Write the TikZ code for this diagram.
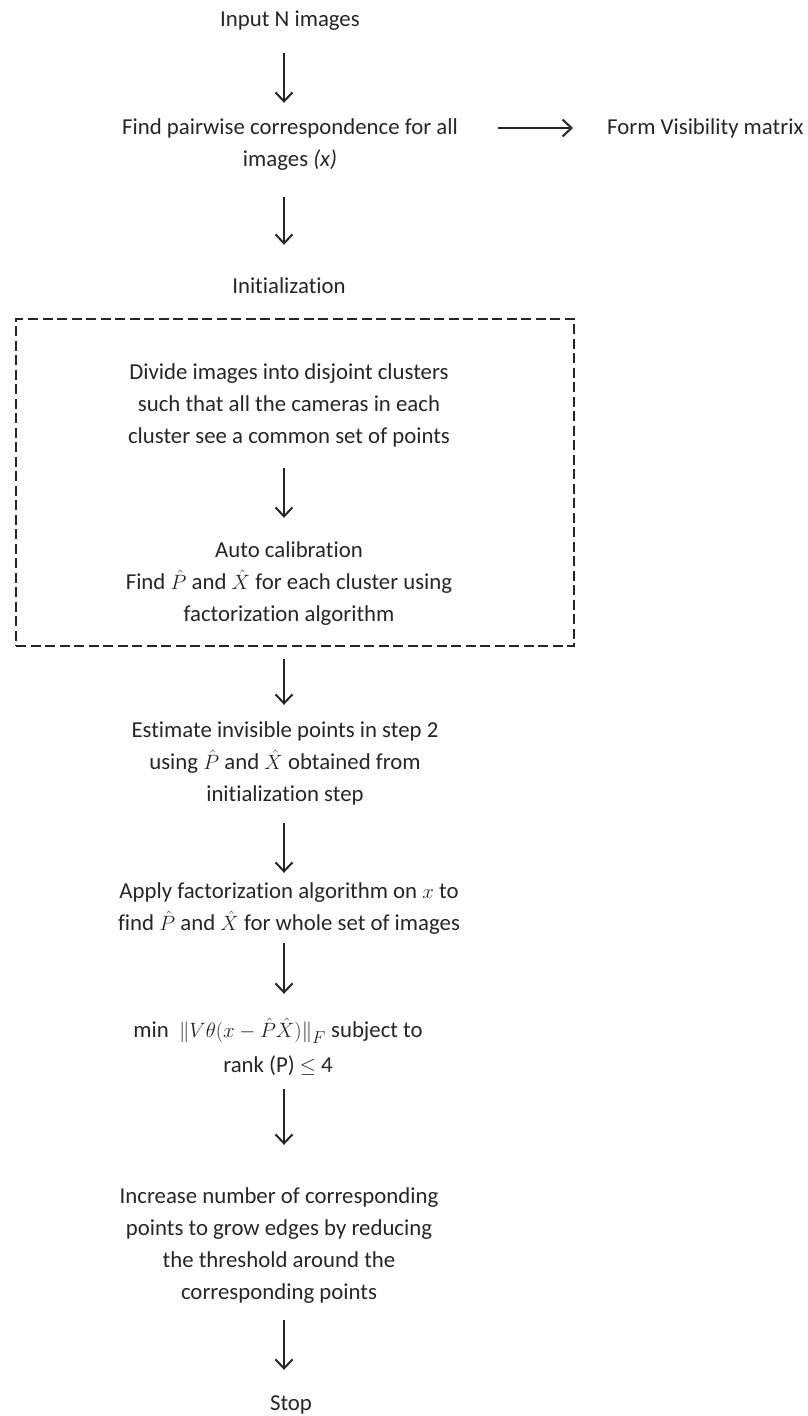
\documentclass[tikz,border=0pt]{standalone}
\usepackage{fontspec}
\setmainfont{Carlito}[RawFeature={-liga;-clig;-calt;-dlig;-rlig}]
\usetikzlibrary{arrows.meta}
\definecolor{txt}{HTML}{262626}
\newcommand{\fsz}{\fontsize{22.8pt}{32pt}\selectfont}
\tikzset{
  lbl/.style={text=txt, inner sep=0pt, align=center, font=\fsz},
  arr/.style={draw=txt, line width=2pt, -{Straight Barb[length=9pt,width=17pt,line width=2pt]}},
  dashbox/.style={draw=txt, line width=2pt, dash pattern=on 10pt off 4.5pt, inner sep=0pt}
}
\begin{document}
\begin{tikzpicture}[x=1pt,y=-1pt]
\useasboundingbox (0,0) rectangle (807,1416);
\coordinate (ax) at (284,0);
\node[lbl] (in) at (290,20) {\strut Input N images};
\node[lbl] (find) at (290,144) {\strut Find pairwise correspondence for all\\\strut images \textit{(x)}};
\node[lbl, anchor=west] (vis) at (607,128) {\strut Form Visibility matrix};
\node[lbl] (init) at (289,287) {\strut Initialization};
\node[dashbox, minimum width=558pt, minimum height=327pt] (box) at (295,482.5) {};
\node[lbl] (div) at (289,405) {\strut Divide images into disjoint clusters\\\strut such that all the cameras in each\\\strut cluster see a common set of points};
\node[lbl] (auto) at (289,583) {\strut Auto calibration\\\strut Find $\hat{P}$ and $\hat{X}$ for each cluster using\\\strut factorization algorithm};
\node[lbl] (est) at (285,763) {\strut Estimate invisible points in step 2\\\strut using $\hat{P}$ and $\hat{X}$ obtained from\\\strut initialization step};
\node[lbl] (apply) at (289,908) {\strut Apply factorization algorithm on $x$ to\\\strut find $\hat{P}$ and $\hat{X}$ for whole set of images};
\node[lbl] (min) at (278,1048.5) {\strut min\ \ $\Big\|V\theta(x-\hat{P}\hat{X})\Big\|_{F}$ subject to\\[3pt]\strut rank (P) $\leq$ 4};
\node[lbl] (inc) at (279,1245) {\strut Increase number of corresponding\\\strut points to grow edges by reducing\\\strut the threshold around the\\\strut corresponding points};
\node[lbl] (stop) at (291,1404) {\strut Stop};
\draw[arr, shorten <=17pt, shorten >=9pt] (in.south -| ax) -- (find.north -| ax);
\draw[arr, shorten <=40pt, shorten >=34pt] ([yshift=16pt]find.east) -- (vis.west);
\draw[arr, shorten <=21pt, shorten >=26pt] (find.south -| ax) -- (init.north -| ax);
\draw[arr, shorten <=15pt, shorten >=17pt] (div.south -| ax) -- (auto.north -| ax);
\draw[arr, shorten <=12pt, shorten >=10pt] (box.south -| ax) -- (est.north -| ax);
\draw[arr, shorten <=12pt, shorten >=3pt] (est.south -| ax) -- (apply.north -| ax);
\draw[arr, shorten <=3pt, shorten >=21pt] (apply.south -| ax) -- (min.north -| ax);
\draw[arr, shorten <=7pt, shorten >=36pt] (min.south -| ax) -- (inc.north -| ax);
\draw[arr, shorten <=11pt, shorten >=18pt] (inc.south -| ax) -- (stop.north -| ax);
\end{tikzpicture}
\end{document}
